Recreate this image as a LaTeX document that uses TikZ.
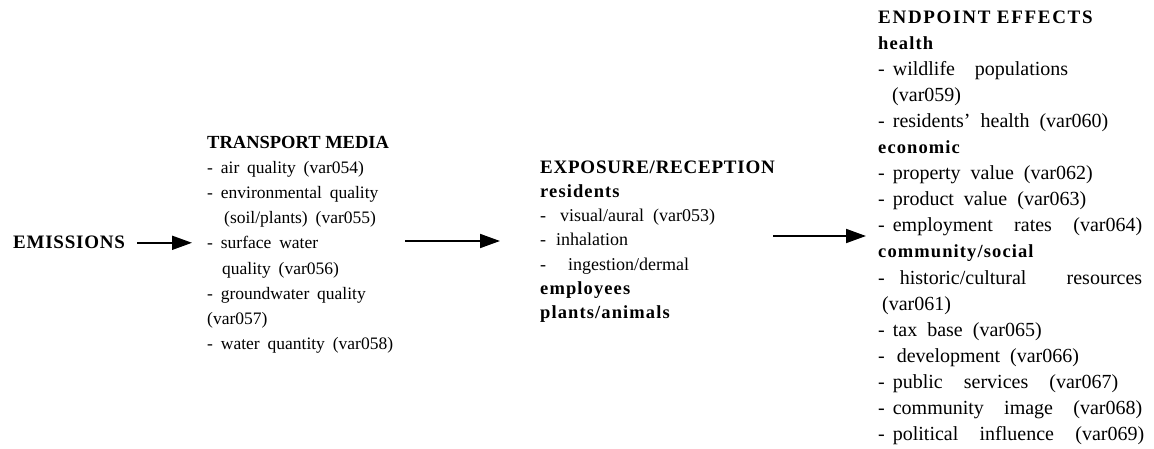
\documentclass[tikz,border=0pt]{standalone}
\usepackage{fontspec}
\setmainfont{Liberation Serif}
\newfontfamily\headfont[LetterSpace=4]{Liberation Serif}
\newfontfamily\catfont[LetterSpace=6]{Liberation Serif}
\usetikzlibrary{arrows.meta}
% wider gaps between words in the item lines
\protected\def\widewords{\spaceskip=0.5em plus 0.5em\relax}
\protected\def\narrowwords{\spaceskip=0.45em plus 0.1em\relax}
% a line whose word gaps are stretched to a given width
\newcommand\spreadto[2]{\makebox[#1][s]{#2}}
% list dash with a fixed gap after it
\newcommand\dash{-\hspace{8pt}}
\begin{document}
\begin{tikzpicture}[x=1pt,y=-1pt,
  item/.style={anchor=base west, inner sep=0pt,
    font=\fontsize{18}{22}\selectfont\widewords},
  eitem/.style={anchor=base west, inner sep=0pt,
    font=\fontsize{20}{22}\selectfont\widewords},
  titem/.style={anchor=base west, inner sep=0pt,
    font=\fontsize{17.5}{22}\selectfont\narrowwords},
  head/.style={anchor=base west, inner sep=0pt,
    font=\fontsize{19}{22}\selectfont\headfont\bfseries},
  cat/.style={anchor=base west, inner sep=0pt,
    font=\fontsize{18.5}{22}\selectfont\catfont\bfseries},
  flow/.style={line width=1.8pt, -{Triangle[length=20pt,width=14pt]}}]
\useasboundingbox (0,0) rectangle (1154,449);

% source
\node[head] (emis) at (13,249) {EMISSIONS};

% transport media column
\node[head, font=\fontsize{18.5}{22}\selectfont\bfseries] (tm0) at (207,149) {TRANSPORT MEDIA};
\node[titem] (tm1) at (207,174) {- air quality (var054)};
\node[titem] (tm2) at (207,199) {- environmental quality};
\node[titem] (tm3) at (224,224) {(soil/plants) (var055)};
\node[titem] (tm4) at (207,249) {- surface water};
\node[titem] (tm5) at (222,274) {quality (var056)};
\node[titem] (tm6) at (207,299) {- groundwater quality};
\node[titem] (tm7) at (207,324) {(var057)};
\node[titem] (tm8) at (207,349) {- water quantity (var058)};

% exposure / reception column
\node[head] (ex0) at (540,174) {EXPOSURE/RECEPTION};
\node[cat]  (ex1) at (540,198) {residents};
\node[item] (ex2) at (540,222) {-\hspace{14pt}visual/aural (var053)};
\node[item] (ex3) at (540,246) {-\hspace{10pt}inhalation};
\node[item] (ex4) at (540,270) {-\hspace{22pt}ingestion/dermal};
\node[cat]  (ex5) at (540,294) {employees};
\node[cat]  (ex6) at (540,318) {plants/animals};

% endpoint effects column
\node[head] (ep0)  at (878,24)  {\addfontfeature{LetterSpace=9}ENDPOINT EFFECTS};
\node[cat]  (ep1)  at (878,50)  {health};
\node[eitem] (ep2)  at (878,76)  {\spreadto{190pt}{\dash wildlife populations}};
\node[eitem] (ep3)  at (892,102) {(var059)};
\node[eitem] (ep4)  at (878,128) {\spreadto{222pt}{\dash residents' health (var060)}};
\node[cat]  (ep5)  at (878,154) {economic};
\node[eitem] (ep6)  at (878,180) {\spreadto{214pt}{\dash property value (var062)}};
\node[eitem] (ep7)  at (878,206) {\spreadto{208pt}{\dash product value (var063)}};
\node[eitem] (ep8)  at (878,232) {\spreadto{264pt}{\dash employment rates (var064)}};
\node[cat]  (ep9)  at (878,258) {community/social};
\node[eitem] (ep10) at (878,284) {\spreadto{264pt}{-\hspace{15pt}historic/cultural resources}};
\node[eitem] (ep11) at (882,310) {(var061)};
\node[eitem] (ep12) at (878,336) {\dash tax base (var065)};
\node[eitem] (ep13) at (878,362) {-\hspace{12pt}development (var066)};
\node[eitem] (ep14) at (878,388) {\spreadto{240pt}{\dash public services (var067)}};
\node[eitem] (ep15) at (878,414) {\spreadto{264pt}{\dash community image (var068)}};
\node[eitem] (ep16) at (878,440) {\spreadto{266pt}{\dash political influence (var069)}};

% flow arrows between the stages
\coordinate (aEnd) at (192,243);
\coordinate (bStart) at (405,241);
\coordinate (cStart) at (773,236);
\draw[flow, shorten <=12pt] (emis.east) -- (emis.east -| aEnd);
\draw[flow, shorten >=40pt] (bStart) -- (bStart -| ex3.west);
\draw[flow, shorten >=12pt] (cStart) -- (cStart -| ep8.west);
\end{tikzpicture}
\end{document}
